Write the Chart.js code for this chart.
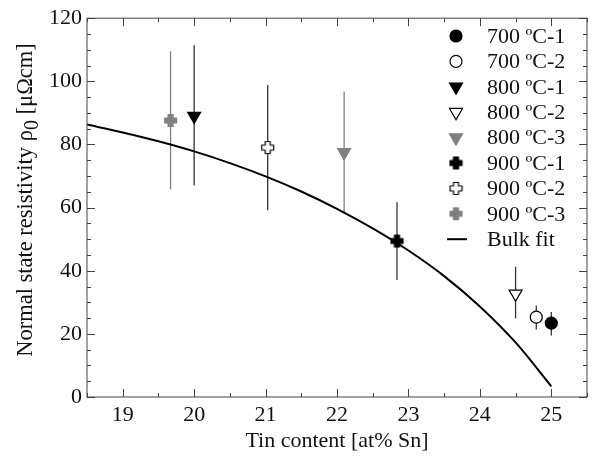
<!DOCTYPE html>
<html>
<head>
<meta charset="utf-8">
<script src="https://cdn.jsdelivr.net/npm/chart.js@4.4.0/dist/chart.umd.min.js"></script>
<style>
  html, body { margin: 0; padding: 0; background: #fff; }
</style>
</head>
<body>
<canvas id="myChart" width="599" height="457"></canvas>
<script>
// series (one point per sample)
const labels = ['700 ºC-1', '700 ºC-2', '800 ºC-1', '800 ºC-2', '800 ºC-3', '900 ºC-1', '900 ºC-2', '900 ºC-3'];
const tinContent = [25.0, 24.79, 20.0, 24.5, 22.1, 22.84, 21.03, 19.67];
const resistivity = [23.4, 25.3, 89.0, 32.7, 77.5, 49.4, 79.0, 87.6];
const errLow = [19.5, 21.4, 67.0, 24.9, 58.3, 37.1, 59.2, 65.8];
const errHigh = [26.9, 29.0, 111.4, 41.3, 96.8, 61.7, 98.8, 109.5];

// bulk fit curve
const fitX = [18.5, 19, 19.5, 20, 20.5, 21, 21.5, 22, 22.5, 23, 23.5, 24, 24.5, 25];
const fitY = [86.3, 83.8, 81.0, 77.8, 74.1, 69.9, 65.1, 59.6, 53.4, 46.4, 38.3, 28.7, 17.3, 3.4];

const xTicks = [19, 20, 21, 22, 23, 24, 25];
const yTicks = [0, 20, 40, 60, 80, 100, 120];

const FONT = "'Liberation Serif', 'DejaVu Serif', serif";
const GREY = '#808080';

// fat plus marker as a small canvas
function makePlus(fill, stroke) {
    const c = document.createElement('canvas');
    c.width = 15; c.height = 15;
    const g = c.getContext('2d');
    const a = 5, b = 10; // arm edges
    g.beginPath();
    g.moveTo(a, 1.5); g.lineTo(b, 1.5); g.lineTo(b, a); g.lineTo(13.5, a);
    g.lineTo(13.5, b); g.lineTo(b, b); g.lineTo(b, 13.5); g.lineTo(a, 13.5);
    g.lineTo(a, b); g.lineTo(1.5, b); g.lineTo(1.5, a); g.lineTo(a, a);
    g.closePath();
    g.lineJoin = 'round';
    g.fillStyle = fill;
    g.fill();
    g.lineWidth = 1.2;
    g.strokeStyle = stroke;
    g.stroke();
    return c;
}

const styles = [
    { pointStyle: 'circle', radius: 6, bg: '#000', border: '#000', rot: 0, bar: '#333' },
    { pointStyle: 'circle', radius: 6, bg: '#fff', border: '#000', rot: 0, bar: '#333' },
    { pointStyle: 'triangle', radius: 7.5, bg: '#000', border: '#000', rot: 180, bar: '#333' },
    { pointStyle: 'triangle', radius: 7.5, bg: '#fff', border: '#000', rot: 180, bar: '#333' },
    { pointStyle: 'triangle', radius: 7.5, bg: GREY, border: GREY, rot: 180, bar: GREY },
    { pointStyle: makePlus('#000', '#000'), radius: 7, bg: '#000', border: '#000', rot: 0, bar: '#333' },
    { pointStyle: makePlus('#fff', '#000'), radius: 7, bg: '#fff', border: '#000', rot: 0, bar: '#333' },
    { pointStyle: makePlus(GREY, GREY), radius: 7, bg: GREY, border: GREY, rot: 0, bar: GREY }
];

const datasets = labels.map((lab, i) => ({
    type: 'scatter',
    label: lab,
    data: [{ x: tinContent[i], y: resistivity[i] }],
    pointStyle: styles[i].pointStyle,
    pointRadius: styles[i].radius,
    pointBackgroundColor: styles[i].bg,
    pointBorderColor: styles[i].border,
    pointBorderWidth: 1.2,
    pointRotation: styles[i].rot
}));

datasets.push({
    type: 'line',
    label: 'Bulk fit',
    data: fitX.map((x, i) => ({ x: x, y: fitY[i] })),
    borderColor: '#000',
    borderWidth: 2,
    pointRadius: 0,
    fill: false,
    cubicInterpolationMode: 'monotone'
});

// error bars under the markers
const errorBars = {
    id: 'errorBars',
    beforeDatasetsDraw(chart) {
        const ctx = chart.ctx;
        const xs = chart.scales.x, ys = chart.scales.y;
        ctx.save();
        ctx.lineWidth = 1.3;
        labels.forEach((lab, i) => {
            const px = xs.getPixelForValue(tinContent[i]);
            ctx.strokeStyle = styles[i].bar;
            ctx.beginPath();
            ctx.moveTo(px, ys.getPixelForValue(errLow[i]));
            ctx.lineTo(px, ys.getPixelForValue(errHigh[i]));
            ctx.stroke();
        });
        ctx.restore();
    }
};

// frame, inward ticks, y title and legend
const frame = {
    id: 'frame',
    afterDraw(chart) {
        const ctx = chart.ctx;
        const a = chart.chartArea;
        const xs = chart.scales.x, ys = chart.scales.y;
        ctx.save();
        ctx.strokeStyle = '#444';
        ctx.lineWidth = 1;
        ctx.strokeRect(a.left, a.top, a.right - a.left, a.bottom - a.top);

        ctx.beginPath();
        for (let v = 18.5; v <= 25.5; v += 0.5) {
            const px = Math.round(xs.getPixelForValue(v)) + 0.5;
            const len = Number.isInteger(v) ? 8 : 4;
            ctx.moveTo(px, a.bottom); ctx.lineTo(px, a.bottom - len);
            ctx.moveTo(px, a.top); ctx.lineTo(px, a.top + len);
        }
        for (let v = 0; v <= 120; v += 5) {
            const py = Math.round(ys.getPixelForValue(v)) + 0.5;
            const len = v % 20 === 0 ? 8 : 4;
            ctx.moveTo(a.left, py); ctx.lineTo(a.left + len, py);
            ctx.moveTo(a.right, py); ctx.lineTo(a.right - len, py);
        }
        ctx.stroke();

        // y axis title with subscript
        ctx.fillStyle = '#111';
        ctx.textBaseline = 'middle';
        const p1 = 'Normal state resistivity ρ', sub = '0', p3 = ' [μΩcm]';
        ctx.font = '22.5px ' + FONT;
        const w1 = ctx.measureText(p1).width, w3 = ctx.measureText(p3).width;
        ctx.font = '20px ' + FONT;
        const w2 = ctx.measureText(sub).width;
        const total = w1 + w2 + w3;
        ctx.save();
        ctx.translate(26, 200);
        ctx.rotate(-Math.PI / 2);
        let sx = -total / 2;
        ctx.font = '22.5px ' + FONT;
        ctx.fillText(p1, sx, 0);
        sx += w1;
        ctx.font = '20px ' + FONT;
        ctx.fillText(sub, sx, 7);
        sx += w2;
        ctx.font = '22.5px ' + FONT;
        ctx.fillText(p3, sx, 0);
        ctx.restore();

        // legend
        const lx = 456, tx = 487, ly0 = 36, step = 25.4;
        ctx.font = '22px ' + FONT;
        ctx.textBaseline = 'middle';
        chart.data.datasets.forEach((ds, i) => {
            const y = ly0 + i * step;
            if (ds.type === 'line') {
                ctx.strokeStyle = '#000';
                ctx.lineWidth = 2;
                ctx.beginPath();
                ctx.moveTo(447, y); ctx.lineTo(467, y);
                ctx.stroke();
            } else {
                const st = styles[i];
                ctx.fillStyle = st.bg;
                ctx.strokeStyle = st.border;
                ctx.lineWidth = 1.2;
                Chart.helpers.drawPoint(ctx, {
                    pointStyle: st.pointStyle,
                    radius: st.radius,
                    rotation: st.rot,
                    borderWidth: 1.2
                }, lx, y);
            }
            ctx.fillStyle = '#111';
            ctx.fillText(ds.label, tx, y + 1);
        });
        ctx.restore();
    }
};

const ctx = document.getElementById('myChart').getContext('2d');
const myChart = new Chart(ctx, {
    type: 'scatter',
    data: { datasets: datasets },
    options: {
        responsive: false,
        animation: false,
        layout: { padding: { left: 0, right: 12, top: 16, bottom: 0 } },
        scales: {
            x: {
                type: 'linear',
                min: 18.5,
                max: 25.5,
                afterBuildTicks: (scale) => { scale.ticks = xTicks.map(v => ({ value: v })); },
                afterFit: (scale) => { scale.height = 60; },
                grid: { display: false, drawTicks: false },
                border: { display: false },
                ticks: { font: { family: FONT, size: 22 }, color: '#111', padding: 5, maxRotation: 0 },
                title: {
                    display: true,
                    text: 'Tin content [at% Sn]',
                    font: { family: FONT, size: 22 },
                    color: '#111',
                    padding: { top: 0, bottom: 3 }
                }
            },
            y: {
                type: 'linear',
                min: 0,
                max: 120,
                afterBuildTicks: (scale) => { scale.ticks = yTicks.map(v => ({ value: v })); },
                afterFit: (scale) => { scale.width = 87; },
                grid: { display: false, drawTicks: false },
                border: { display: false },
                ticks: { font: { family: FONT, size: 22 }, color: '#111', padding: 5 }
            }
        },
        plugins: {
            legend: { display: false },
            tooltip: { enabled: false }
        }
    },
    plugins: [errorBars, frame]
});
</script>
</body>
</html>
